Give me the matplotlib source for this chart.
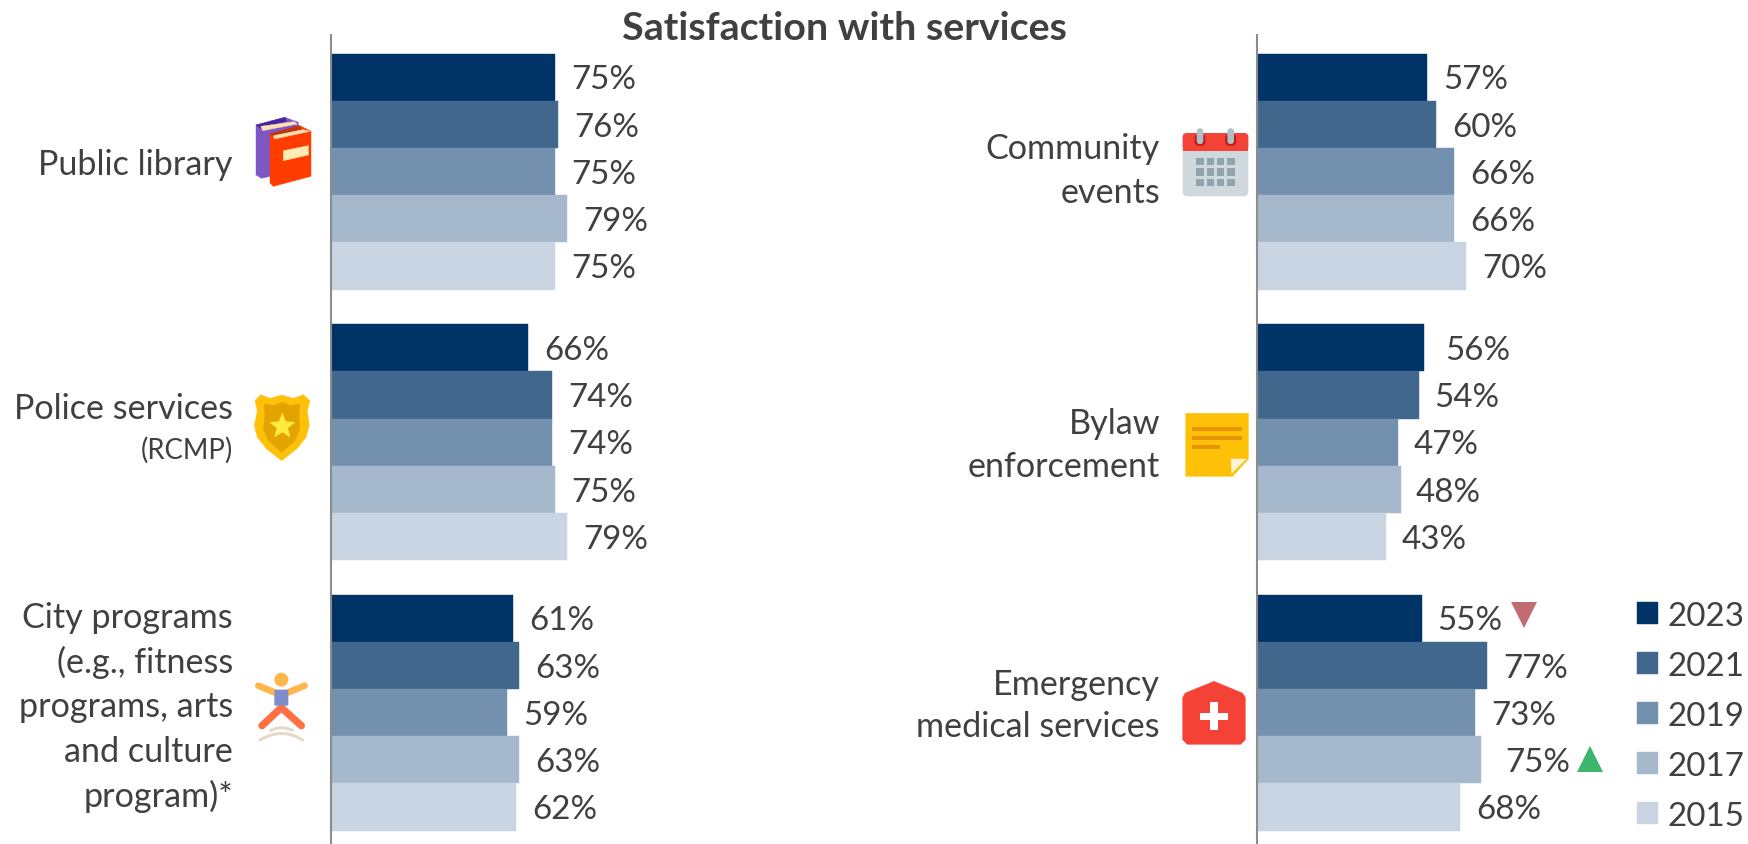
import matplotlib
matplotlib.use("Agg")
import matplotlib.pyplot as plt
from matplotlib.patches import Polygon, Circle, Rectangle, FancyBboxPatch, PathPatch
from matplotlib.path import Path
import numpy as np

plt.rcParams['font.family'] = ['Lato', 'DejaVu Sans']

W, H = 1749, 845
TEXT = '#404040'

years = ['2023', '2021', '2019', '2017', '2015']
year_colors = ['#003366', '#41678C', '#7390AE', '#A6B8CB', '#C9D5E2']

left_services = ['Public library', 'Police services', 'City programs']
left_values = [
    [75, 76, 75, 79, 75],
    [66, 74, 74, 75, 79],
    [61, 63, 59, 63, 62],
]
right_services = ['Community events', 'Bylaw enforcement', 'Emergency medical services']
right_values = [
    [57, 60, 66, 66, 70],
    [56, 54, 47, 48, 43],
    [55, 77, 73, 75, 68],
]

BODY = 23.9
CAPTION = 24.6
GROUP_STEP = 270.5 / 47.2
LABEL_GAP = 15.5

fig = plt.figure(figsize=(W / 100, H / 100), dpi=100, facecolor='white')


def panel(x_px, values, extra_gap):
    ax = fig.add_axes([x_px / W, 0, 300 / W, (H - 36) / H])
    ax.set_xlim(0, 100.3)
    ax.set_ylim(16.245, -0.895)
    ax.patch.set_alpha(0)
    for g, row in enumerate(values):
        for i, v in enumerate(row):
            y = g * GROUP_STEP + i
            ax.barh(y, v, height=1.0, color=year_colors[i], edgecolor=year_colors[i],
                    linewidth=0.3, label=years[i] if g == 0 else None)
            gap = LABEL_GAP + extra_gap.get((g, i), 0)
            ax.annotate(f'{v}%', (v, y), xytext=(gap * 0.72, -1.6), textcoords='offset points',
                        ha='left', va='center', fontsize=BODY, color=TEXT)
    for side in ('top', 'right', 'bottom'):
        ax.spines[side].set_visible(False)
    ax.spines['left'].set_color('#8C8C8C')
    ax.spines['left'].set_linewidth(1.5)
    ax.set_xticks([])
    ax.set_yticks([])
    return ax


ax_l = panel(331, left_values, {})
ax_r = panel(1257, right_values, {(1, 0): 5, (2, 3): 8})

# Pixel-space layer for captions, icons and change markers
ov = fig.add_axes([0, 0, 1, 1], zorder=5)
ov.set_xlim(0, W)
ov.set_ylim(H, 0)
ov.axis('off')

ov.text(844, 28, 'Satisfaction with services', ha='center', va='center',
        fontsize=28.4, fontweight='bold', color=TEXT)


def caption(x, y, s, size=CAPTION):
    ov.text(x, y, s, ha='right', va='center', fontsize=size, color=TEXT)


caption(233, 165, left_services[0])
caption(233, 409, left_services[1])
caption(233, 450, '(RCMP)', 19.8)
for y, s in zip([618, 662, 707, 752, 796],
                [left_services[2], '(e.g., fitness', 'programs, arts', 'and culture', 'program)*']):
    caption(233, y, s)
caption(1160, 149, 'Community')
caption(1160, 193, 'events')
caption(1160, 424, 'Bylaw')
caption(1160, 467, 'enforcement')
caption(1160, 685, 'Emergency')
caption(1160, 727, 'medical services')


class Icon:
    """Draws in a local grid three times finer than the figure pixels."""

    def __init__(self, x0, y0):
        self.x0, self.y0 = x0, y0

    def pt(self, x, y):
        return self.x0 + x / 3, self.y0 + y / 3

    def poly(self, pts, color):
        ov.add_patch(Polygon([self.pt(*p) for p in pts], closed=True, fc=color, ec=color,
                             lw=0.3, joinstyle='round'))

    def box(self, x0, y0, x1, y1, color, rad=0, zorder=1):
        a, b = self.pt(x0, y0)
        c, d = self.pt(x1, y1)
        if rad:
            ov.add_patch(FancyBboxPatch((a + rad, b + rad), c - a - 2 * rad, d - b - 2 * rad,
                                        boxstyle=f'round,pad={rad},rounding_size={rad}',
                                        fc=color, ec='none', zorder=zorder))
        else:
            ov.add_patch(Rectangle((a, b), c - a, d - b, fc=color, ec='none', zorder=zorder))

    def stroke(self, pts, color, width):
        xy = [self.pt(*p) for p in pts]
        ov.plot(*zip(*xy), color=color, lw=width / 3 * 0.72, solid_capstyle='round')

    def arc(self, p0, p1, p2, color, width):
        verts = [self.pt(*p) for p in (p0, p1, p2)]
        ov.add_patch(PathPatch(Path(verts, [Path.MOVETO, Path.CURVE3, Path.CURVE3]), fc='none',
                               ec=color, lw=width / 3 * 0.72, capstyle='round'))


# Books
ic = Icon(220, 90)
ic.poly([(108, 108), (195, 85), (235, 100), (240, 240), (125, 268), (108, 258)], '#7E57C2')
ic.poly([(108, 108), (195, 85), (200, 96), (122, 118)], '#4527A0')
ic.poly([(122, 112), (222, 98), (232, 105), (128, 125)], '#FFE0B2')
ic.poly([(150, 135), (240, 110), (273, 127), (273, 262), (160, 292), (150, 282)], '#FF3D00')
ic.poly([(150, 135), (238, 110), (244, 120), (160, 142)], '#BF360C')
ic.poly([(160, 140), (250, 122), (270, 127), (163, 150)], '#FFE0B2')
ic.poly([(190, 185), (265, 170), (265, 198), (190, 215)], '#FFECB3')

# Police badge
ic = Icon(220, 370)
ic.poly([(105, 95), (122, 77), (150, 88), (185, 78), (220, 88), (250, 77), (270, 95), (262, 125),
         (268, 170), (258, 205), (230, 240), (185, 275), (140, 240), (112, 205), (103, 170),
         (112, 125)], '#FFC107')
ic.poly([(133, 105), (160, 110), (185, 100), (212, 110), (240, 105), (237, 140), (240, 180),
         (225, 215), (185, 250), (145, 215), (130, 180), (135, 140)], '#E3A300')
ang = np.deg2rad(np.arange(10) * 36 - 90)
rad = np.where(np.arange(10) % 2 == 0, 40, 17)
ic.poly(list(zip(187 + rad * np.cos(ang), 172 + rad * np.sin(ang))), '#FFEB3B')

# Jumping figure: limbs first, torso over them
ic = Icon(220, 650)
ic.stroke([(115, 110), (168, 132)], '#FFB74D', 20)
ic.stroke([(254, 110), (200, 132)], '#FFB74D', 20)
ic.stroke([(184, 176), (126, 230)], '#FF7043', 22)
ic.stroke([(184, 176), (244, 230)], '#FF7043', 22)
ic.box(163, 122, 205, 170, '#7E8CCB', 1, zorder=3)
ov.add_patch(Circle(ic.pt(184, 92), 7, fc='#FFB74D', ec='none'))
ic.arc((152, 244), (185, 228), (218, 244), '#E4D9C6', 9)
ic.arc((120, 273), (185, 234), (248, 273), '#E4D9C6', 9)

# Calendar
ic = Icon(1160, 110)
ic.box(68, 72, 265, 262, '#CFD8DC', 5)
ic.box(68, 72, 265, 125, '#F44336', 4)
ic.box(68, 100, 265, 125, '#F44336')
for cx in (120, 212):
    ic.box(cx - 16, 75, cx + 16, 110, '#B71C1C', 4)
    ic.box(cx - 10, 58, cx + 10, 105, '#B0BEC5', 3)
for gx in (109, 140, 171, 202):
    for gy in (147, 178, 209):
        ic.box(gx, gy, gx + 22, gy + 22, '#90A4AE')

# Sticky note
ic = Icon(1160, 400)
ic.poly([(77, 43), (265, 43), (265, 180), (218, 232), (77, 232)], '#FFC107')
ic.poly([(213, 180), (258, 180), (215, 223)], '#FFF3D6')
ic.box(97, 85, 245, 96, '#E69500')
ic.box(97, 111, 245, 122, '#E69500')
ic.box(97, 138, 181, 149, '#E69500')

# Medical kit
ic = Icon(1160, 670)
ic.poly([(68, 85), (76, 72), (162, 37), (247, 72), (256, 85), (256, 212), (242, 226), (82, 226),
         (68, 212)], '#F44336')
ic.box(120, 131, 205, 153, 'white')
ic.box(151, 100, 173, 184, 'white')

# Change markers beside the emergency services values
ov.add_patch(Polygon([(1511, 603), (1537, 603), (1524, 629)], fc='#C06C70', ec='none'))
ov.add_patch(Polygon([(1577, 773), (1603, 773), (1590, 747)], fc='#3DB56F', ec='none'))

handles, labels = ax_l.get_legend_handles_labels()
SWATCH = 21 * 0.72
leg = fig.legend(handles, labels, loc='upper left', bbox_to_anchor=(1637 / W, 1 - 602 / H),
                 frameon=False, fontsize=BODY, borderpad=0, borderaxespad=0,
                 handlelength=SWATCH / BODY, handleheight=SWATCH / BODY,
                 handletextpad=0.28, labelspacing=0.6)
for t in leg.get_texts():
    t.set_color(TEXT)

fig.savefig('out.png', dpi=100)
